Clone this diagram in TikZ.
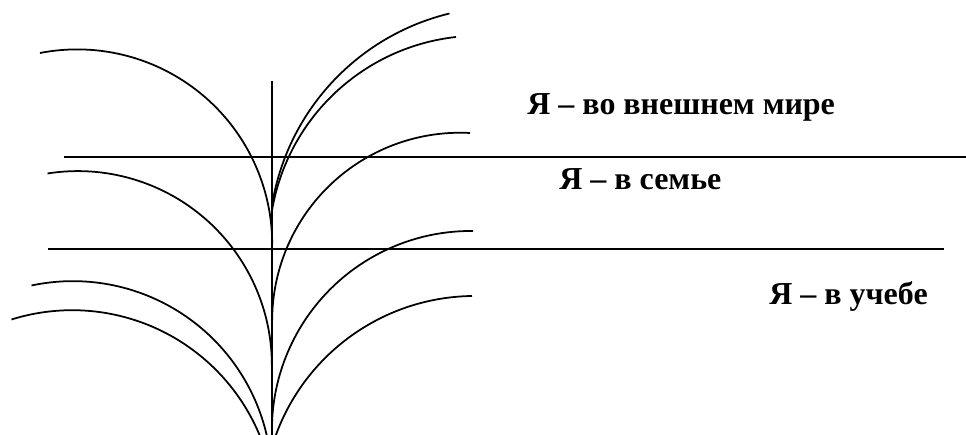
\documentclass[tikz,border=0pt]{standalone}
\usepackage{fontspec}
\setmainfont{Liberation Serif}
\usepackage{tikz}

\begin{document}
\begin{tikzpicture}[leaf/.style={line width=1pt},
  rule/.style={line width=1pt},
  sphere/.style={anchor=base west,inner sep=0pt,font=\fontsize{18.2}{21}\selectfont\bfseries}]
\useasboundingbox (0,0) rectangle (19.32,8.7);
\clip (0,0) rectangle (19.32,8.7);
% stem
\coordinate (top) at (5.44,7.08);
\coordinate (root) at (5.44,0);
\draw[leaf] (top) -- (root);
% borders
\coordinate (b1l) at (1.28,5.56);
\coordinate (b1r) at (19.32,5.56);
\coordinate (b2l) at (0.96,3.72);
\coordinate (b2r) at (18.88,3.72);
\draw[rule] (b1l) -- (b1r);
\draw[rule] (b2l) -- (b2r);
% left leaves
\coordinate (l1) at (0.80,7.64);
\coordinate (l2) at (0.95,5.23);
\coordinate (l3) at (0.63,2.99);
\coordinate (l4) at (0.23,2.31);
\draw[leaf] (l1) arc[start angle=101,end angle=0,radius=3.9];
\draw[leaf] (l2) arc[start angle=99,end angle=0,radius=3.88];
\draw[leaf] (l3) arc[start angle=102,end angle=0,radius=3.98];
\draw[leaf] (l4) arc[start angle=107.4,end angle=15,radius=4.06];
% right leaves
\coordinate (r1) at (8.99,8.43);
\coordinate (r2) at (9.12,7.96);
\coordinate (r3) at (9.40,6.04);
\coordinate (r4) at (9.46,4.08);
\coordinate (r5) at (9.44,2.78);
\draw[leaf] (r1) arc[start angle=103.6,end angle=171,radius=4.72];
\draw[leaf] (r2) arc[start angle=96.3,end angle=172,radius=4.2];
\draw[leaf] (r3) arc[start angle=87,end angle=180,radius=3.76];
\draw[leaf] (r4) arc[start angle=89.4,end angle=180,radius=3.98];
\draw[leaf] (r5) arc[start angle=90.8,end angle=165,radius=4.24];
% spheres
\node[sphere] (outer) at (10.54,6.40) {Я – во внешнем мире};
\node[sphere] (family) at (11.18,4.90) {Я – в семье};
\node[sphere] (study) at (15.38,2.60) {Я – в учебе};
\end{tikzpicture}
\end{document}
